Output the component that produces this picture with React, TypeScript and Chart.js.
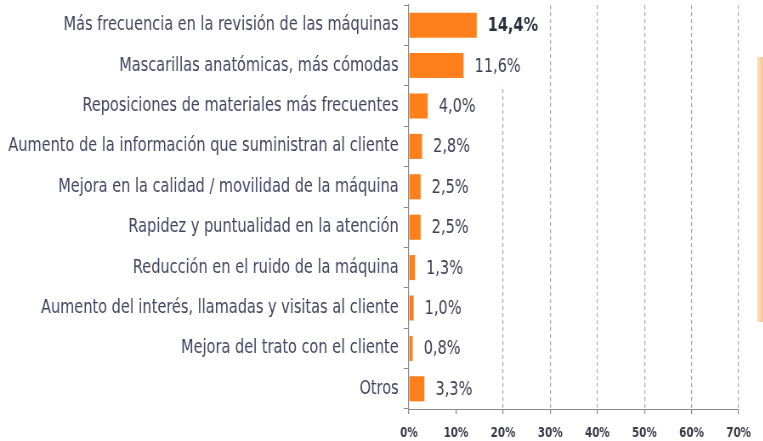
import React, { useEffect, useRef } from "react";
import { Chart, registerables } from "chart.js";

Chart.register(...registerables);

const categories: string[] = [
  "Más frecuencia en la revisión de las máquinas",
  "Mascarillas anatómicas, más cómodas",
  "Reposiciones de materiales más frecuentes",
  "Aumento de la información que suministran al cliente",
  "Mejora en la calidad / movilidad de la máquina",
  "Rapidez y puntualidad en la atención",
  "Reducción en el ruido de la máquina",
  "Aumento del interés, llamadas y visitas al cliente",
  "Mejora del trato con el cliente",
  "Otros",
];

const values: number[] = [14.4, 11.6, 4.0, 2.8, 2.5, 2.5, 1.3, 1.0, 0.8, 3.3];

const xTicks: number[] = [0, 10, 20, 30, 40, 50, 60, 70];

// The source image is horizontally compressed; render wider and squeeze.
const SQUEEZE = 0.85;
const W = 763;
const H = 441;
const CW = Math.round(W / SQUEEZE);

const FONT = "'DejaVu Sans Condensed', 'DejaVu Sans', sans-serif";

const valueLabels = {
  id: "valueLabels",
  afterDatasetsDraw(chart: any) {
    const ctx = chart.ctx as CanvasRenderingContext2D;
    const meta = chart.getDatasetMeta(0);
    const yScale = chart.scales.y;
    const rowH = (yScale.bottom - yScale.top) / categories.length;
    meta.data.forEach((bar: any, i: number) => {
      const text = values[i].toFixed(1).replace(".", ",") + "%";
      ctx.save();
      ctx.font = `${i === 0 ? "bold " : ""}19px ${FONT}`;
      const w = ctx.measureText(text).width;
      const x = bar.x + 13;
      const y = bar.y;
      ctx.fillStyle = "#ffffff";
      ctx.fillRect(x - 3, y - rowH / 2, w + 6, rowH);
      ctx.fillStyle = i === 0 ? "#28303f" : "#3e3e54";
      ctx.textBaseline = "middle";
      ctx.textAlign = "left";
      ctx.fillText(text, x, y + 1);
      ctx.restore();
    });
  },
};

export default function App() {
  const ref = useRef<HTMLCanvasElement | null>(null);

  useEffect(() => {
    document.body.style.margin = "0";
    const canvas = ref.current;
    if (!canvas) return;
    const chart = new Chart(canvas, {
      type: "bar",
      data: {
        labels: categories,
        datasets: [
          {
            data: values,
            backgroundColor: "#ff7f1a",
            borderWidth: 0,
            barPercentage: 0.62,
            categoryPercentage: 1,
          },
        ],
      },
      options: {
        indexAxis: "y",
        animation: false,
        responsive: false,
        maintainAspectRatio: false,
        layout: { padding: { left: 0, right: CW - Math.round(739 / SQUEEZE), top: 5, bottom: 0 } },
        plugins: {
          legend: { display: false },
          tooltip: { enabled: false },
          title: { display: false },
        },
        scales: {
          x: {
            type: "linear",
            min: 0,
            max: 70,
            afterBuildTicks: (scale: any) => {
              scale.ticks = xTicks.map((v) => ({ value: v }));
            },
            afterFit: (scale: any) => {
              scale.height = 32;
            },
            ticks: {
              callback: (v: any) => `${v}%`,
              color: "#383848",
              font: { family: FONT, size: 13.5, weight: "bold" },
              padding: 11,
            },
            grid: {
              color: (ctx: any) =>
                ctx.tick && (ctx.tick.value === 0 || ctx.tick.value === 10)
                  ? "rgba(0,0,0,0)"
                  : "#a8a8a8",
              tickColor: "#8a8a8a",
              tickLength: 5,
              lineWidth: 1.2,
              tickWidth: 1.2,
            },
            border: { display: true, color: "#8a8a8a", width: 1, dash: [4, 3] },
          },
          y: {
            type: "category",
            afterFit: (scale: any) => {
              scale.width = Math.round(409 / SQUEEZE);
              scale.paddingTop = 0;
              scale.paddingBottom = 0;
            },
            ticks: {
              color: "#40445f",
              font: { family: FONT, size: 19 },
              padding: 6,
              autoSkip: false,
            },
            grid: {
              drawOnChartArea: false,
              tickColor: "#8a8a8a",
              tickLength: 6,
              offset: true,
            },
            border: { display: true, color: "#8a8a8a", width: 1.2 },
          },
        },
      },
      plugins: [valueLabels],
    });
    return () => chart.destroy();
  }, []);

  return (
    <div style={{ position: "fixed", left: 0, top: 0, width: W, height: H, background: "#fff", overflow: "hidden" }}>
      <div style={{ transform: `scaleX(${SQUEEZE})`, transformOrigin: "0 0", width: CW, height: H }}>
        <canvas ref={ref} width={CW} height={H} style={{ display: "block" }} />
      </div>
      <div
        style={{
          position: "absolute",
          right: 0,
          top: 57,
          width: 6,
          height: 265,
          background: "linear-gradient(to right, rgba(253,214,160,0.6), rgba(250,180,110,0.8))",
        }}
      />
    </div>
  );
}
